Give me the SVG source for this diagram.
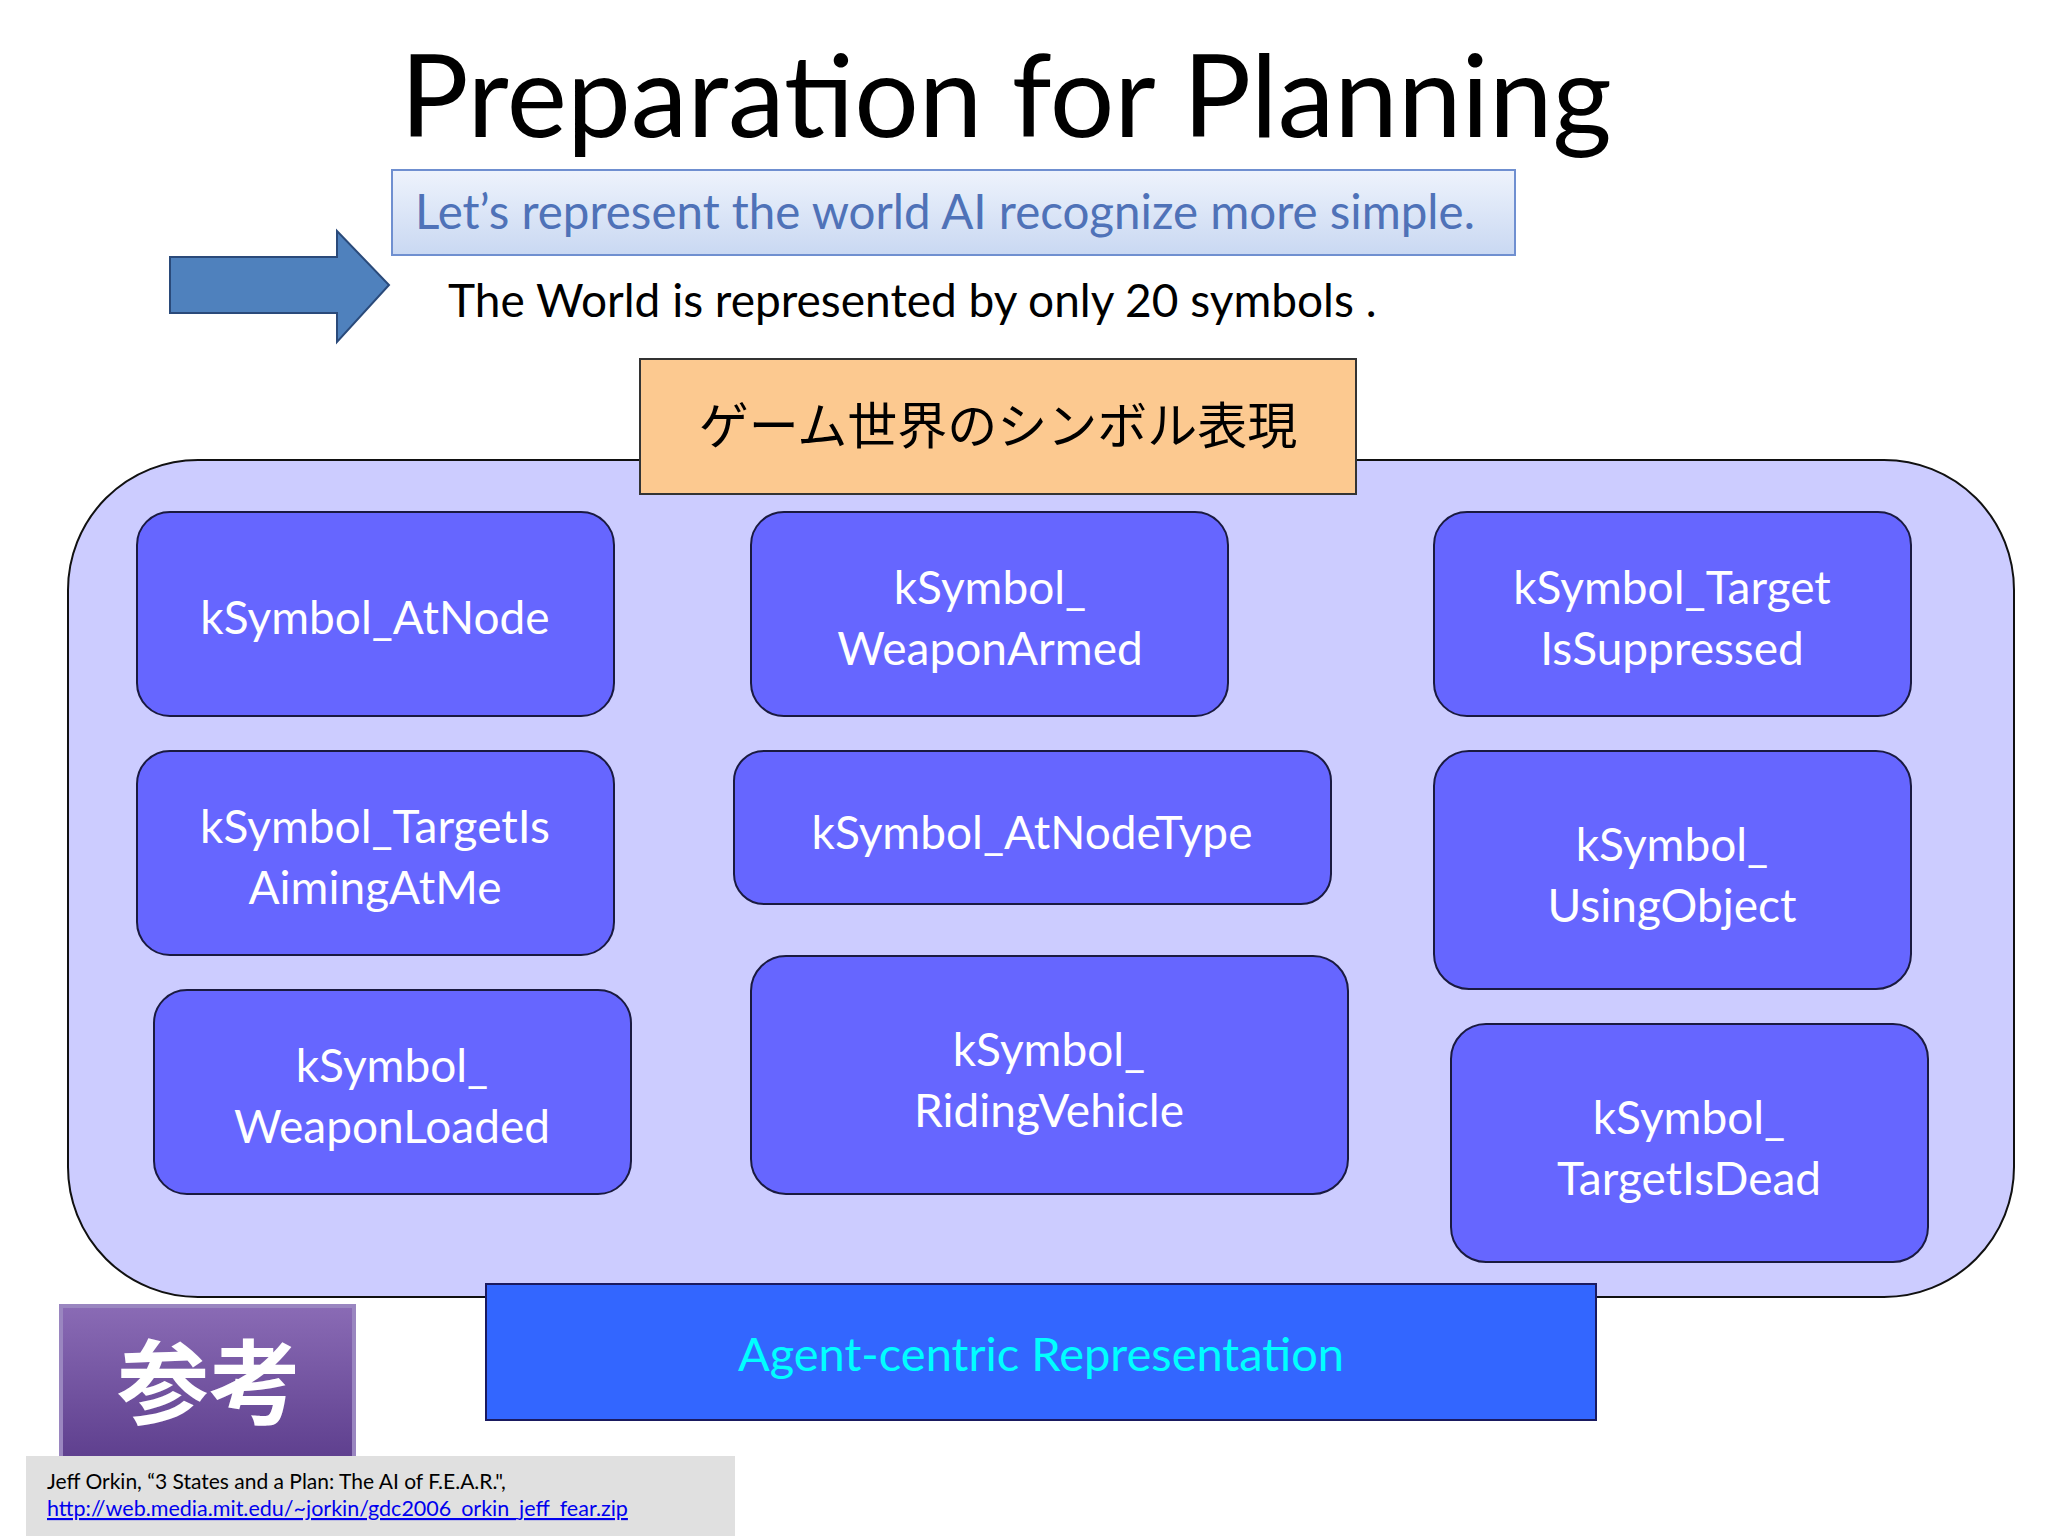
<svg xmlns="http://www.w3.org/2000/svg" width="2048" height="1536" viewBox="0 0 2048 1536">
<defs>
<linearGradient id="sub" x1="0" y1="0" x2="0" y2="1"><stop offset="0" stop-color="#eef3fc"/><stop offset="1" stop-color="#c9d8f2"/></linearGradient>
<linearGradient id="pur" x1="0" y1="0" x2="0" y2="1"><stop offset="0" stop-color="#8a6bb5"/><stop offset="1" stop-color="#5e3f8e"/></linearGradient>
<style>
text{font-family:Lato,"Noto Sans","Noto Sans CJK JP",sans-serif}
.node rect{fill:#6666ff;stroke:#1a1a40;stroke-width:2}
.node text{fill:#fff;font-size:46px;text-anchor:middle}
</style>
</defs>
<rect width="2048" height="1536" fill="#fff"/>
<text x="1006" y="137" font-size="114" text-anchor="middle" fill="#000">Preparation for Planning</text>
<rect x="392" y="170" width="1123" height="85" fill="url(#sub)" stroke="#6f8fd0" stroke-width="2"/>
<text x="415" y="229" font-size="47.5" fill="#4f72b8">Let’s represent the world AI recognize more simple.</text>
<path d="M170 257H337V231L389 285L337 342V313H170Z" fill="#4f81bd" stroke="#2a4a7a" stroke-width="2"/>
<text x="448" y="317" font-size="46" fill="#000">The World is represented by only 20 symbols .</text>
<rect x="68" y="460" width="1946" height="837" rx="130" fill="#ccccff" stroke="#111" stroke-width="2"/>
<g id="header"><rect x="640" y="359" width="716" height="135" fill="#fcc990" stroke="#333" stroke-width="2"/>
<text x="998" y="444" font-size="50" text-anchor="middle" font-family="Noto Sans CJK JP,sans-serif">ゲーム世界のシンボル表現</text></g>
<g id="n1" class="node"><rect x="137" y="512" width="477" height="204" rx="33"/><text x="375" y="634">kSymbol_AtNode</text></g>
<g id="n2" class="node"><rect x="751" y="512" width="477" height="204" rx="33"/><text x="990" y="604">kSymbol_</text><text x="990" y="665">WeaponArmed</text></g>
<g id="n3" class="node"><rect x="1434" y="512" width="477" height="204" rx="33"/><text x="1672" y="604">kSymbol_Target</text><text x="1672" y="665">IsSuppressed</text></g>
<g id="n4" class="node"><rect x="137" y="751" width="477" height="204" rx="33"/><text x="375" y="843">kSymbol_TargetIs</text><text x="375" y="904">AimingAtMe</text></g>
<g id="n5" class="node"><rect x="734" y="751" width="597" height="153" rx="30"/><text x="1032" y="849">kSymbol_AtNodeType</text></g>
<g id="n6" class="node"><rect x="1434" y="751" width="477" height="238" rx="35"/><text x="1672" y="861">kSymbol_</text><text x="1672" y="922">UsingObject</text></g>
<g id="n7" class="node"><rect x="154" y="990" width="477" height="204" rx="33"/><text x="392" y="1082">kSymbol_</text><text x="392" y="1143">WeaponLoaded</text></g>
<g id="n8" class="node"><rect x="751" y="956" width="597" height="238" rx="35"/><text x="1049" y="1066">kSymbol_</text><text x="1049" y="1127">RidingVehicle</text></g>
<g id="n9" class="node"><rect x="1451" y="1024" width="477" height="238" rx="35"/><text x="1689" y="1134">kSymbol_</text><text x="1689" y="1195">TargetIsDead</text></g>
<g id="footer"><rect x="486" y="1284" width="1110" height="136" fill="#3366ff" stroke="#1a1a60" stroke-width="2"/>
<text x="1041" y="1371" font-size="47" text-anchor="middle" fill="#00ffff">Agent-centric Representation</text></g>
<g id="connectors"/>
<rect x="61" y="1306" width="293" height="153" fill="url(#pur)" stroke="#9a86c0" stroke-width="4"/>
<text x="209" y="1417" font-size="92" text-anchor="middle" fill="#fff" font-family="Noto Sans CJK JP,sans-serif" font-weight="bold">参考</text>
<rect x="26" y="1456" width="709" height="80" fill="#e0e0e0"/>
<text x="47" y="1489" font-size="21" fill="#000">Jeff Orkin, “3 States and a Plan: The AI of F.E.A.R.",</text>
<text x="47" y="1516" font-size="21.5" fill="#0000ee" text-decoration="underline">http://web.media.mit.edu/~jorkin/gdc2006_orkin_jeff_fear.zip</text>
</svg>
